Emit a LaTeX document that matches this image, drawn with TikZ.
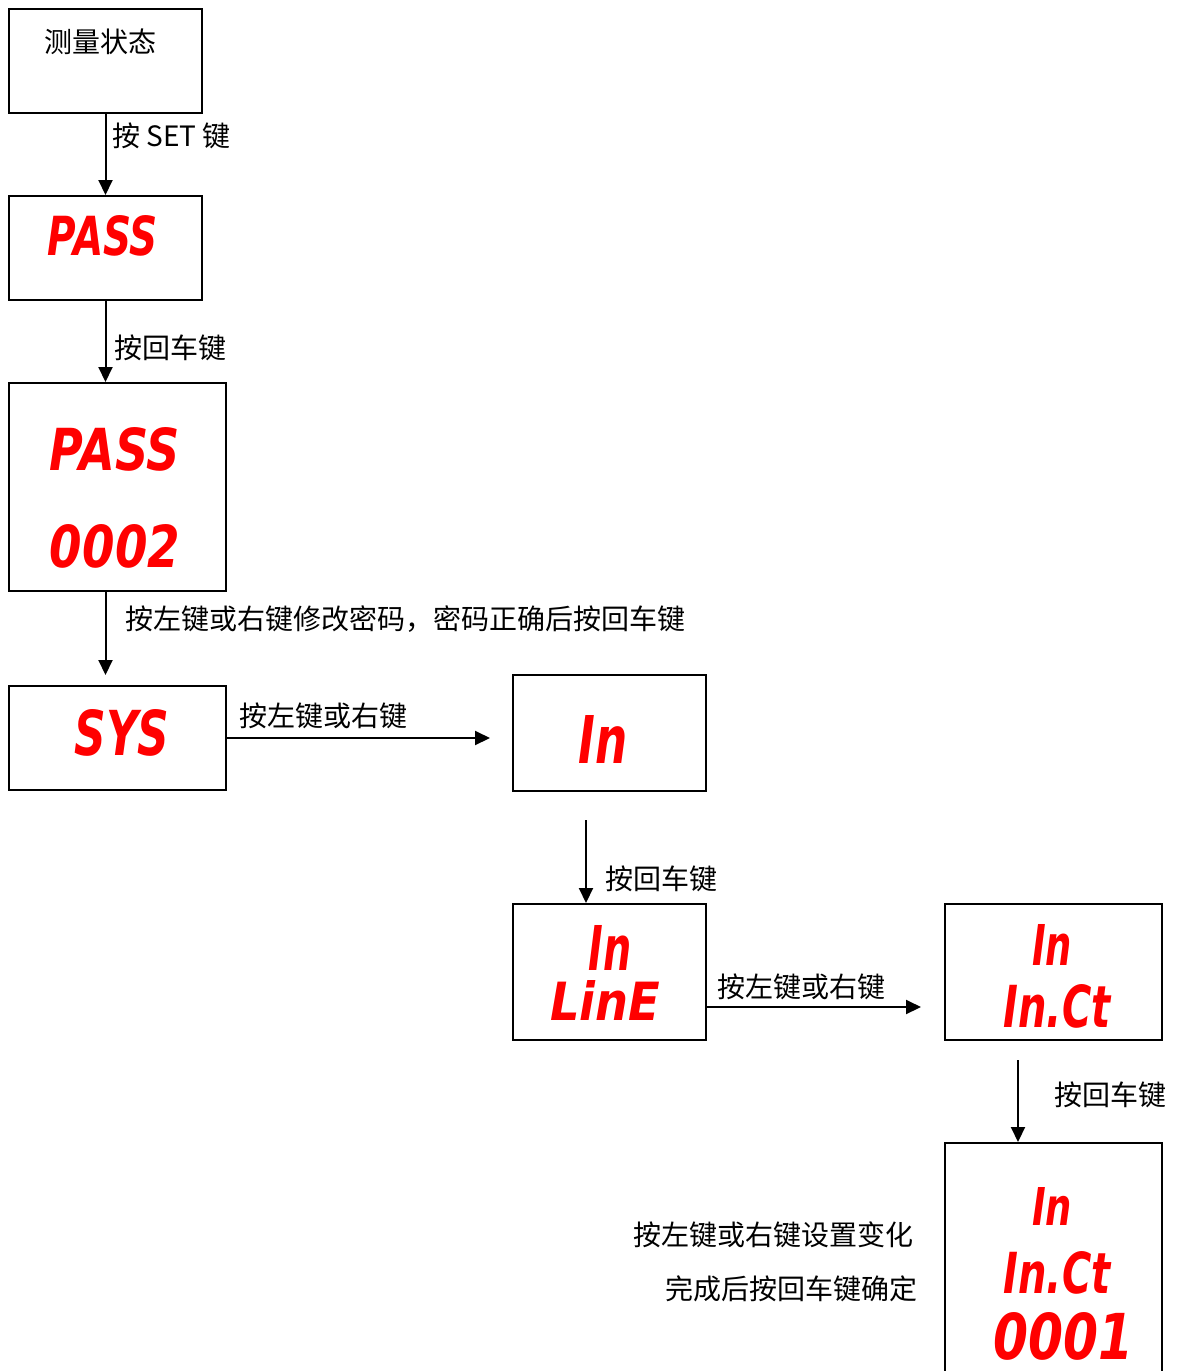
\documentclass[tikz,border=0pt]{standalone}
\usepackage{fontspec}
\newfontfamily\cjk{Noto Sans CJK SC}
\newfontfamily\segfont{DejaVu Sans}[BoldItalicFont={* Bold Oblique}]
\usetikzlibrary{arrows.meta}
\newcommand\segtxt[3]{\resizebox{#1pt}{#2pt}{\segfont\bfseries\itshape #3}}
\begin{document}
\begin{tikzpicture}[x=1pt,y=-1pt,
  box/.style={draw, line width=2pt, inner sep=0, fill=white},
  lbl/.style={font=\fontsize{28}{28}\selectfont\cjk, inner sep=0, anchor=west},
  arr/.style={line width=2pt, -{Triangle[length=15pt,width=14pt]}},
  seg/.style={text=red, inner sep=0}]
\useasboundingbox (0,0) rectangle (1181,1371);
\clip (0,0) rectangle (1181,1371);
\fill[white] (0,0) rectangle (1181,1371);
% boxes
\node[box, minimum width=193, minimum height=104] (b1) at (105.5,61) {};
\node[box, minimum width=193, minimum height=104] (b2) at (105.5,248) {};
\node[box, minimum width=217, minimum height=208] (b3) at (117.5,487) {};
\node[box, minimum width=217, minimum height=104] (b4) at (117.5,738) {};
\node[box, minimum width=193, minimum height=116] (b5) at (609.5,733) {};
\node[box, minimum width=193, minimum height=136] (b6) at (609.5,972) {};
\node[box, minimum width=217, minimum height=136] (b7) at (1053.5,972) {};
\node[box, minimum width=217, minimum height=240] (b8) at (1053.5,1263) {};
% box texts
\node[lbl, anchor=center] (t1) at (100,42) {测量状态};
\node[seg] (t2) at (103,236) {\segtxt{110}{40}{PASS}};
\node[seg] (t3a) at (115,449) {\segtxt{130}{43}{PASS}};
\node[seg] (t3b) at (115,546) {\segtxt{130}{43}{0002}};
\node[seg] (t4) at (122,733) {\segtxt{95}{46}{SYS}};
\node[seg] (t5) at (603,739) {\segtxt{49}{48}{In}};
\node[seg] (t6a) at (610,948) {\segtxt{43}{45}{In}};
\node[seg] (t6b) at (605,1000) {\segtxt{110}{40}{LinE}};
\node[seg] (t7a) at (1052,945) {\segtxt{40}{41}{In}};
\node[seg] (t7b) at (1057,1006) {\segtxt{107}{43}{In.Ct}};
\node[seg] (t8a) at (1052,1206) {\segtxt{40}{38}{In}};
\node[seg] (t8b) at (1057,1273) {\segtxt{107}{42}{In.Ct}};
\node[seg] (t8c) at (1063,1336) {\segtxt{140}{47}{0001}};
% free ends
\coordinate (e3) at (105.5,675);
\coordinate (e4) at (490,738);
\coordinate (s5) at (586,820);
\coordinate (e6) at (921,1007);
\coordinate (s7) at (1018,1060);
% connectors
\draw[arr] (b1.south) -- (b2.north);
\draw[arr] (b2.south) -- (b2.south |- b3.north);
\draw[arr] (b2.south |- b3.south) -- (e3);
\draw[arr] (b4.east) -- (e4);
\draw[arr] (s5) -- (s5 |- b6.north);
\draw[arr] (b6.east |- e6) -- (e6);
\draw[arr] (s7) -- (s7 |- b8.north);
% labels
\node[lbl] (l1) at (112,136) {按 SET 键};
\node[lbl] (l2) at (114,348) {按回车键};
\node[lbl] (l3) at (125,619) {按左键或右键修改密码，密码正确后按回车键};
\node[lbl] (l4) at (239,716) {按左键或右键};
\node[lbl] (l5) at (605,879) {按回车键};
\node[lbl] (l6) at (717,987) {按左键或右键};
\node[lbl] (l7) at (1054,1095) {按回车键};
\node[lbl] (l8) at (633,1235) {按左键或右键设置变化};
\node[lbl] (l9) at (665,1289) {完成后按回车键确定};
\end{tikzpicture}
\end{document}
